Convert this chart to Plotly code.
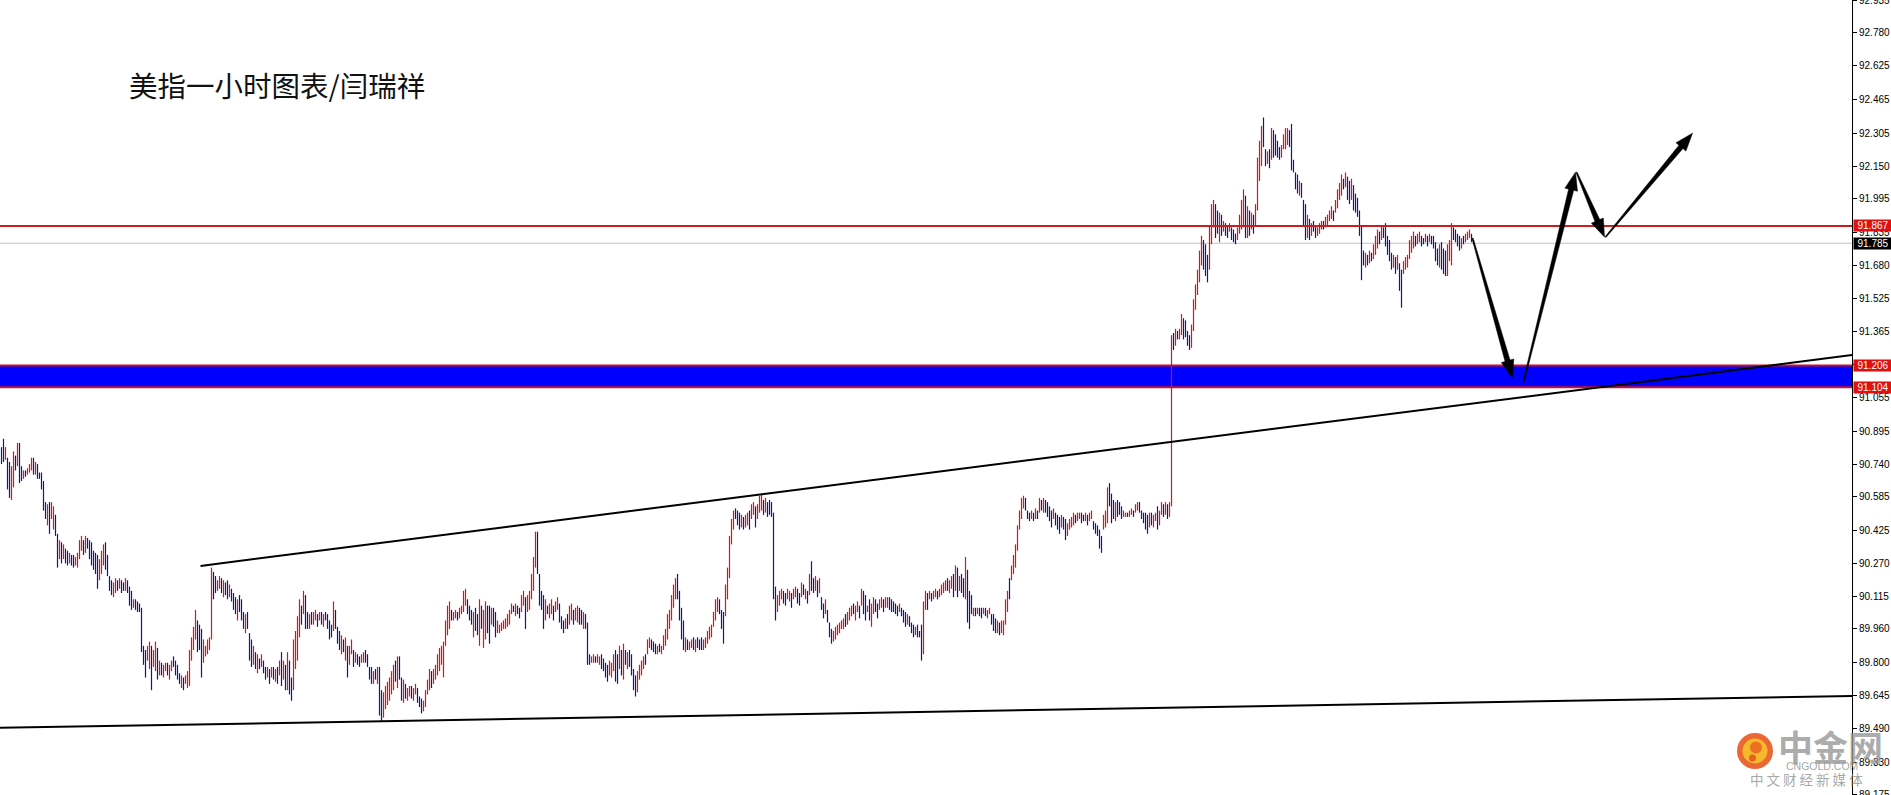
import plotly.graph_objects as go

# ---------------- data (US dollar index, 1-hour bars) ----------------
bar_high = [
    90.82, 90.86, 90.82, 90.77, 90.75, 90.73, 90.80, 90.78, 90.84, 90.84,
    90.73, 90.71, 90.71, 90.72, 90.74, 90.77, 90.77, 90.75, 90.74, 90.70,
    90.70, 90.66, 90.56, 90.55, 90.56, 90.56, 90.54, 90.50, 90.41, 90.38,
    90.37, 90.36, 90.34, 90.33, 90.32, 90.31, 90.31, 90.30, 90.32, 90.38,
    90.40, 90.38, 90.40, 90.39, 90.38, 90.37, 90.33, 90.32, 90.31, 90.29,
    90.33, 90.36, 90.37, 90.31, 90.21, 90.19, 90.18, 90.20, 90.19, 90.20,
    90.19, 90.18, 90.20, 90.19, 90.16, 90.14, 90.10, 90.10, 90.09, 90.08,
    90.06, 89.88, 89.86, 89.88, 89.90, 89.88, 89.86, 89.90, 89.87, 89.81,
    89.80, 89.79, 89.80, 89.80, 89.79, 89.81, 89.83, 89.81, 89.79, 89.75,
    89.74, 89.73, 89.74, 89.76, 89.86, 89.92, 89.97, 90.05, 90.00, 89.98,
    89.96, 89.91, 89.88, 89.91, 89.92, 90.25, 90.23, 90.21, 90.19, 90.21,
    90.20, 90.19, 90.18, 90.19, 90.17, 90.15, 90.13, 90.11, 90.10, 90.12,
    90.10, 90.04, 90.03, 90.04, 89.94, 89.91, 89.88, 89.85, 89.84, 89.82,
    89.84, 89.81, 89.78, 89.78, 89.77, 89.78, 89.78, 89.77, 89.78, 89.81,
    89.85, 89.81, 89.79, 89.85, 89.81, 89.73, 89.91, 89.95, 90.02, 90.10,
    90.07, 90.14, 90.12, 90.04, 90.03, 90.04, 90.04, 90.05, 90.03, 90.04,
    90.04, 90.03, 90.04, 90.03, 90.00, 89.98, 90.09, 90.05, 89.97, 89.95,
    89.93, 89.91, 89.92, 89.88, 89.88, 89.91, 89.86, 89.85, 89.84, 89.83,
    89.84, 89.85, 89.86, 89.84, 89.78, 89.78, 89.76, 89.77, 89.78, 89.78,
    89.67, 89.66, 89.69, 89.71, 89.73, 89.76, 89.79, 89.81, 89.83, 89.83,
    89.73, 89.72, 89.70, 89.68, 89.69, 89.69, 89.68, 89.70, 89.68, 89.64,
    89.63, 89.62, 89.67, 89.72, 89.77, 89.76, 89.77, 89.79, 89.84, 89.87,
    89.88, 89.90, 90.00, 90.07, 90.09, 90.05, 90.04, 90.05, 90.04, 90.06,
    90.07, 90.14, 90.15, 90.10, 90.07, 90.05, 90.04, 90.06, 90.03, 90.10,
    90.07, 90.05, 90.09, 90.07, 90.07, 90.06, 90.06, 90.04, 90.00, 89.98,
    89.99, 90.00, 90.01, 90.03, 90.05, 90.08, 90.07, 90.08, 90.07, 90.06,
    90.12, 90.14, 90.11, 90.12, 90.14, 90.22, 90.30, 90.42, 90.42, 90.22,
    90.14, 90.12, 90.10, 90.07, 90.08, 90.10, 90.07, 90.09, 90.11, 90.08,
    90.02, 90.00, 90.01, 90.03, 90.07, 90.08, 90.05, 90.06, 90.07, 90.06,
    90.05, 90.04, 90.03, 89.99, 89.84, 89.83, 89.84, 89.83, 89.84, 89.83,
    89.84, 89.82, 89.80, 89.79, 89.81, 89.80, 89.84, 89.86, 89.84, 89.88,
    89.86, 89.89, 89.86, 89.85, 89.86, 89.84, 89.77, 89.74, 89.76, 89.79,
    89.81, 89.83, 89.84, 89.91, 89.92, 89.91, 89.90, 89.89, 89.88, 89.89,
    89.88, 89.93, 89.96, 90.03, 90.05, 90.12, 90.17, 90.20, 90.22, 90.14,
    90.06, 90.00, 89.92, 89.91, 89.90, 89.91, 89.92, 89.91, 89.92, 89.91,
    89.92, 89.91, 89.92, 89.95, 89.97, 89.98, 90.04, 90.10, 90.11, 90.10,
    90.05, 90.04, 90.17, 90.25, 90.40, 90.48, 90.52, 90.53, 90.52, 90.51,
    90.50, 90.49, 90.50, 90.51, 90.52, 90.55, 90.56, 90.54, 90.55, 90.59,
    90.60, 90.57, 90.58, 90.56, 90.57, 90.56, 90.51, 90.16, 90.12, 90.14,
    90.15, 90.14, 90.13, 90.15, 90.14, 90.13, 90.15, 90.16, 90.15, 90.13,
    90.18, 90.17, 90.15, 90.14, 90.22, 90.28, 90.20, 90.21, 90.19, 90.20,
    90.11, 90.08, 90.10, 90.05, 89.99, 89.96, 89.95, 89.97, 89.98, 89.99,
    90.00, 90.01, 90.03, 90.04, 90.06, 90.07, 90.08, 90.07, 90.09, 90.07,
    90.15, 90.14, 90.12, 90.07, 90.10, 90.08, 90.11, 90.10, 90.08, 90.10,
    90.11, 90.10, 90.11, 90.11, 90.11, 90.10, 90.09, 90.08, 90.07, 90.08,
    90.06, 90.05, 90.04, 90.03, 90.02, 89.99, 89.98, 89.97, 89.98, 89.95,
    89.98, 90.09, 90.14, 90.13, 90.14, 90.13, 90.14, 90.15, 90.14, 90.15,
    90.17, 90.18, 90.19, 90.20, 90.19, 90.21, 90.22, 90.26, 90.25, 90.21,
    90.22, 90.20, 90.30, 90.24, 90.14, 90.12, 90.06, 90.06, 90.06, 90.06,
    90.06, 90.06, 90.06, 90.05, 90.06, 90.03, 90.03, 90.01, 90.00, 89.99,
    90.00, 90.00, 90.10, 90.14, 90.20, 90.26, 90.31, 90.36, 90.45, 90.52,
    90.58, 90.59, 90.58, 90.52, 90.51, 90.52, 90.51, 90.53, 90.52, 90.58,
    90.57, 90.58, 90.57, 90.56, 90.54, 90.52, 90.53, 90.51, 90.50, 90.49,
    90.50, 90.49, 90.48, 90.46, 90.48, 90.49, 90.51, 90.50, 90.51, 90.51,
    90.51, 90.50, 90.51, 90.50, 90.51, 90.52, 90.47, 90.46, 90.45, 90.43,
    90.40, 90.50, 90.52, 90.63, 90.65, 90.60, 90.57, 90.56, 90.57, 90.56,
    90.54, 90.52, 90.51, 90.51, 90.52, 90.53, 90.52, 90.55, 90.56, 90.56,
    90.52, 90.51, 90.51, 90.50, 90.51, 90.51, 90.50, 90.51, 90.54, 90.52,
    90.56, 90.55, 90.56, 90.55, 90.56, 91.35, 91.36, 91.38, 91.37, 91.38,
    91.45, 91.43, 91.42, 91.37, 91.35, 91.40, 91.52, 91.59, 91.66, 91.75,
    91.82, 91.80, 91.78, 91.73, 91.87, 91.97, 91.99, 91.97, 91.94, 91.93,
    91.92, 91.89, 91.88, 91.87, 91.88, 91.86, 91.85, 91.83, 91.86, 91.92,
    91.99, 92.04, 92.01, 91.96, 91.94, 91.93, 91.92, 91.97, 92.19, 92.27,
    92.34, 92.38, 92.23, 92.22, 92.23, 92.33, 92.32, 92.30, 92.27, 92.24,
    92.25, 92.30, 92.33, 92.33, 92.32, 92.35, 92.18, 92.12, 92.11, 92.08,
    92.07, 91.99, 91.97, 91.92, 91.90, 91.88, 91.89, 91.87, 91.86, 91.88,
    91.89, 91.89, 91.91, 91.92, 91.94, 91.96, 91.94, 91.99, 92.04, 92.07,
    92.11, 92.09, 92.12, 92.10, 92.08, 92.09, 92.06, 92.02, 92.00, 91.94,
    91.87, 91.75, 91.74, 91.73, 91.75, 91.74, 91.78, 91.82, 91.85, 91.84,
    91.87, 91.86, 91.88, 91.82, 91.80, 91.74, 91.73, 91.72, 91.73, 91.69,
    91.66, 91.70, 91.72, 91.73, 91.80, 91.82, 91.84, 91.82, 91.83, 91.84,
    91.82, 91.81, 91.83, 91.82, 91.83, 91.82, 91.82, 91.79, 91.76, 91.78,
    91.79, 91.76, 91.75, 91.78, 91.80, 91.88, 91.86, 91.85, 91.83, 91.82,
    91.81, 91.82, 91.83, 91.84, 91.85, 91.83, 91.80,
]

bar_low = [
    90.74, 90.75, 90.76, 90.62, 90.58, 90.57, 90.63, 90.71, 90.73, 90.65,
    90.66, 90.67, 90.68, 90.69, 90.70, 90.71, 90.69, 90.69, 90.67, 90.67,
    90.62, 90.52, 90.48, 90.45, 90.41, 90.48, 90.43, 90.40, 90.25, 90.29,
    90.27, 90.29, 90.27, 90.26, 90.27, 90.26, 90.25, 90.26, 90.25, 90.29,
    90.33, 90.31, 90.32, 90.34, 90.29, 90.26, 90.24, 90.22, 90.15, 90.19,
    90.22, 90.26, 90.24, 90.21, 90.14, 90.12, 90.11, 90.13, 90.14, 90.15,
    90.13, 90.14, 90.14, 90.13, 90.07, 90.05, 90.06, 90.05, 90.04, 90.04,
    89.85, 89.79, 89.73, 89.81, 89.77, 89.67, 89.78, 89.76, 89.72, 89.74,
    89.74, 89.73, 89.76, 89.74, 89.72, 89.76, 89.78, 89.74, 89.72, 89.70,
    89.68, 89.67, 89.70, 89.68, 89.69, 89.81, 89.86, 89.91, 89.85, 89.86,
    89.73, 89.80, 89.83, 89.84, 89.86, 89.91, 90.10, 90.13, 90.14, 90.15,
    90.13, 90.11, 90.12, 90.10, 90.11, 90.09, 90.05, 90.03, 90.00, 90.04,
    90.00, 89.96, 89.94, 89.96, 89.81, 89.78, 89.79, 89.77, 89.75, 89.77,
    89.78, 89.75, 89.72, 89.73, 89.70, 89.73, 89.72, 89.71, 89.70, 89.74,
    89.69, 89.72, 89.67, 89.67, 89.65, 89.62, 89.67, 89.77, 89.81, 89.92,
    89.98, 90.03, 89.96, 89.96, 89.96, 89.98, 89.98, 90.00, 89.97, 90.00,
    89.98, 89.97, 90.00, 89.96, 89.91, 89.92, 89.95, 89.96, 89.89, 89.86,
    89.84, 89.85, 89.81, 89.73, 89.79, 89.84, 89.78, 89.80, 89.79, 89.78,
    89.80, 89.80, 89.80, 89.78, 89.72, 89.70, 89.70, 89.72, 89.70, 89.55,
    89.52, 89.54, 89.58, 89.60, 89.62, 89.65, 89.67, 89.71, 89.68, 89.72,
    89.62, 89.61, 89.63, 89.62, 89.64, 89.63, 89.62, 89.65, 89.61, 89.59,
    89.56, 89.57, 89.59, 89.65, 89.67, 89.68, 89.70, 89.72, 89.74, 89.76,
    89.79, 89.73, 89.88, 89.93, 89.96, 90.00, 90.00, 90.01, 90.00, 90.01,
    90.03, 90.04, 90.07, 90.03, 90.00, 89.98, 89.92, 89.95, 89.93, 89.88,
    89.96, 89.87, 89.91, 89.94, 89.89, 89.98, 89.97, 89.92, 89.94, 89.94,
    89.95, 89.96, 89.96, 89.97, 89.98, 90.03, 90.04, 90.02, 90.03, 90.01,
    90.04, 90.07, 89.96, 90.04, 90.05, 90.10, 90.14, 90.25, 90.22, 90.07,
    90.05, 89.96, 90.00, 90.03, 90.01, 90.03, 90.00, 90.04, 90.05, 89.99,
    89.96, 89.94, 89.96, 89.96, 89.98, 90.00, 89.98, 90.00, 89.99, 89.98,
    89.98, 89.96, 89.96, 89.79, 89.79, 89.80, 89.80, 89.80, 89.80, 89.79,
    89.77, 89.76, 89.73, 89.71, 89.74, 89.73, 89.76, 89.71, 89.70, 89.77,
    89.74, 89.72, 89.79, 89.77, 89.78, 89.74, 89.67, 89.64, 89.66, 89.72,
    89.74, 89.77, 89.79, 89.84, 89.87, 89.86, 89.85, 89.84, 89.84, 89.85,
    89.84, 89.86, 89.88, 89.91, 89.96, 90.00, 90.06, 90.10, 90.10, 90.00,
    89.91, 89.86, 89.85, 89.86, 89.86, 89.87, 89.86, 89.85, 89.87, 89.86,
    89.86, 89.86, 89.87, 89.89, 89.91, 89.92, 89.97, 90.00, 90.04, 90.03,
    89.96, 89.89, 90.02, 90.10, 90.20, 90.36, 90.43, 90.48, 90.45, 90.43,
    90.44, 90.43, 90.44, 90.45, 90.43, 90.48, 90.50, 90.44, 90.48, 90.51,
    90.52, 90.50, 90.51, 90.49, 90.50, 90.49, 90.10, 90.00, 90.04, 90.07,
    90.10, 90.08, 90.07, 90.10, 90.09, 90.06, 90.10, 90.11, 90.08, 90.07,
    90.11, 90.12, 90.10, 90.08, 90.12, 90.14, 90.13, 90.14, 90.11, 90.13,
    90.05, 90.01, 90.03, 89.99, 89.92, 89.89, 89.90, 89.91, 89.93, 89.94,
    89.96, 89.96, 89.97, 89.98, 90.00, 90.02, 90.03, 90.00, 90.04, 90.01,
    90.07, 90.03, 90.00, 90.04, 90.00, 89.97, 90.03, 90.04, 90.01, 90.05,
    90.06, 90.04, 90.06, 90.06, 90.05, 90.04, 90.04, 90.03, 90.02, 90.04,
    90.02, 89.99, 89.97, 89.98, 89.97, 89.94, 89.92, 89.93, 89.92, 89.92,
    89.81, 89.84, 90.05, 90.05, 90.10, 90.09, 90.10, 90.11, 90.10, 90.11,
    90.12, 90.13, 90.14, 90.14, 90.13, 90.15, 90.11, 90.14, 90.11, 90.14,
    90.13, 90.11, 90.10, 89.99, 89.96, 90.03, 90.02, 90.02, 90.03, 90.02,
    90.01, 90.03, 90.02, 90.01, 90.03, 89.98, 89.95, 89.94, 89.94, 89.93,
    89.94, 89.93, 89.98, 90.04, 90.10, 90.19, 90.22, 90.25, 90.33, 90.43,
    90.48, 90.53, 90.52, 90.48, 90.47, 90.48, 90.47, 90.48, 90.48, 90.51,
    90.52, 90.51, 90.51, 90.49, 90.47, 90.44, 90.48, 90.45, 90.43, 90.41,
    90.44, 90.43, 90.38, 90.40, 90.43, 90.44, 90.45, 90.46, 90.47, 90.48,
    90.46, 90.47, 90.47, 90.45, 90.47, 90.48, 90.43, 90.41, 90.40, 90.34,
    90.32, 90.43, 90.44, 90.46, 90.54, 90.46, 90.48, 90.47, 90.49, 90.50,
    90.48, 90.49, 90.49, 90.49, 90.49, 90.50, 90.49, 90.51, 90.52, 90.51,
    90.48, 90.46, 90.43, 90.41, 90.44, 90.45, 90.44, 90.47, 90.43, 90.45,
    90.50, 90.49, 90.50, 90.48, 90.49, 90.54, 91.28, 91.30, 91.33, 91.33,
    91.35, 91.33, 91.34, 91.30, 91.28, 91.29, 91.37, 91.47, 91.54, 91.60,
    91.68, 91.66, 91.63, 91.60, 91.66, 91.78, 91.86, 91.81, 91.83, 91.79,
    91.82, 91.84, 91.82, 91.81, 91.84, 91.80, 91.79, 91.78, 91.80, 91.83,
    91.85, 91.86, 91.81, 91.81, 91.82, 91.85, 91.83, 91.87, 91.94, 92.08,
    92.15, 92.24, 92.15, 92.16, 92.14, 92.18, 92.19, 92.20, 92.19, 92.18,
    92.19, 92.23, 92.23, 92.25, 92.24, 92.13, 92.12, 92.04, 92.02, 92.01,
    92.00, 91.87, 91.80, 91.81, 91.80, 91.82, 91.84, 91.81, 91.82, 91.83,
    91.85, 91.85, 91.86, 91.87, 91.89, 91.90, 91.89, 91.93, 91.95, 91.99,
    92.01, 92.04, 92.05, 91.99, 91.97, 91.99, 91.94, 91.93, 91.91, 91.82,
    91.61, 91.68, 91.67, 91.68, 91.69, 91.70, 91.71, 91.73, 91.76, 91.78,
    91.80, 91.81, 91.77, 91.73, 91.70, 91.66, 91.67, 91.64, 91.66, 91.56,
    91.48, 91.64, 91.66, 91.67, 91.71, 91.74, 91.76, 91.77, 91.78, 91.79,
    91.77, 91.78, 91.79, 91.77, 91.79, 91.78, 91.76, 91.70, 91.68, 91.67,
    91.66, 91.64, 91.63, 91.63, 91.70, 91.68, 91.80, 91.79, 91.77, 91.75,
    91.76, 91.78, 91.79, 91.80, 91.81, 91.79, 91.78,
]

# R = bar closed up (red), B = bar closed down (blue)
bar_dir = (
    "BBRBBRRBRB" "BRBRRRBRBB" "BBBRBRRBBR" "BRBBRBBRRR" "RBRBBBBBBR"
    "RRBBBBRRBR" "BBRBBBRBBB" "BBBRRBRRBR" "BRRBRRBBBB" "RBRRRRRRBB"
    "BRRRRRBBRR" "BRBBRBBBRB" "BBRBBBRBRB" "RBBRBRBRBR" "BRBRBBRRRR"
    "BRBBRBRRBR" "BRBBBBRBBB" "RBRBRRBRBB" "RRBBBBRBRB" "BRRRRRRBRB"
    "BRBRRBRRBB" "BRRRRBRRRR" "RRRRRBRRBR" "RRRBBBRBBR" "BRRBBRBBRR"
    "RRRRRRBRBB" "RRBRRRRRBB" "BBRBRRBRRB" "BBRBRRBRRB" "BRBBBRRBRR"
    "BBBBRRRBBR" "BRBRBBBBRR" "RRBRRBBBRB" "RRRRRRRRBB" "BBRBRRBRBB"
    "BRRRRRRRRB" "BBRRRRRBBB" "RBRRBRRBRR" "RBRBBBBBRR" "RBBRRBRRBB"
    "RBRBRBBRBR" "BBRBBBRRRR" "RRBRRRBRRB" "RBBRBRRBBR" "RBRRBBBBBR"
    "BBBRBBBRBB" "BRRBRBRRBR" "RRRBRRBRBR" "BBRBBBRBRB" "BRBRRBBBRB"
    "RRRRBRRRRR" "RRBBBRBRBR" "BRBBBBRBBB" "RBBRRRRBRR" "BBRBRRBBBB"
    "BRRRBBBRBB" "BRRBRRBRRB" "BBBBRBRRBR" "RBRBRRBRBR" "RBBBBRRRRR"
    "RBBBRRRBBR" "BRBBRBBBRR" "RRBRBRBRRR" "RBBRBRBBBB" "RRRRBBBBBR"
    "BBBRBRBBRR" "RBRRRRBRRR" "RBRBBRBBBB" "BBRBRBRRRB" "RBBBBBRBRB"
    "BRRRRRRBRR" "BBRBRBBBBR" "BBBRRRBBBB" "RBRRRBB"
)

# horizontal levels drawn on the chart
resistance_level = 91.867
last_price = 91.785
zone_top = 91.206
zone_bottom = 91.104

# right price axis
axis_ticks = [92.935, 92.780, 92.625, 92.465, 92.305, 92.150, 91.995, 91.835,
              91.680, 91.525, 91.365, 91.210, 91.055, 90.895, 90.740, 90.585,
              90.425, 90.270, 90.115, 89.960, 89.800, 89.645, 89.490, 89.330,
              89.175]
axis_tick_text = ["92.935", "92.780", "92.625", "92.465", "92.305", "92.150",
                  "91.995", "91.835", "91.680", "91.525", "91.365", "91.210",
                  "91.055", "90.895", "90.740", "90.585", "90.425", "90.270",
                  "90.115", "89.960", "89.800", "89.645", "89.490", "89.330",
                  "89.175"]

# trend lines (bar index, price)
upper_trend_x = [99.5, 925.25]
upper_trend_y = [90.258, 91.256]
lower_trend_x = [-0.75, 925.25]
lower_trend_y = [89.492, 89.643]

# projected path arrows: (start bar, start price) -> (tip bar, tip price)
arrow_legs = [
    ((735.5, 91.809), (755.5, 91.147)),
    ((761.0, 91.128), (787.0, 92.121)),
    ((787.5, 92.121), (801.5, 91.814)),
    ((802.0, 91.814), (845.5, 92.306)),
]

title_text = "美指一小时图表/闫瑞祥"

# ---------------- figure ----------------
W, H = 1891, 795
PLOT_W = 1852
XR = [-0.75, 925.25]
YR = [89.174, 92.936]

RED = "#e0101c"
BLUE = "#14148c"


def to_px(x, y):
    return ((x - XR[0]) / (XR[1] - XR[0]) * PLOT_W,
            (YR[1] - y) / (YR[1] - YR[0]) * H)


def to_data(px, py):
    return (XR[0] + px / PLOT_W * (XR[1] - XR[0]),
            YR[1] - py / H * (YR[1] - YR[0]))


def arrow_path(start, tip, w0=0.6, w1=2.6, hw=6.5, hl=18.0):
    sx, sy = to_px(*start)
    tx, ty = to_px(*tip)
    dx, dy = tx - sx, ty - sy
    L = (dx * dx + dy * dy) ** 0.5
    ux, uy = dx / L, dy / L
    nx, ny = -uy, ux
    bx, by = tx - ux * hl, ty - uy * hl
    pts = [(sx + nx * w0, sy + ny * w0), (bx + nx * w1, by + ny * w1),
           (bx + nx * hw, by + ny * hw), (tx, ty),
           (bx - nx * hw, by - ny * hw), (bx - nx * w1, by - ny * w1),
           (sx - nx * w0, sy - ny * w0)]
    d = [to_data(px, py) for px, py in pts]
    return "M " + " L ".join(f"{x:.4f},{y:.5f}" for x, y in d) + " Z"


up_x, up_y, dn_x, dn_y = [], [], [], []
for i, (h, l, d) in enumerate(zip(bar_high, bar_low, bar_dir)):
    if d == "R":
        up_x += [i, i, None]
        up_y += [l, h, None]
    else:
        dn_x += [i, i, None]
        dn_y += [h, l, None]

fig = go.Figure()
fig.add_trace(go.Scatter(x=up_x, y=up_y, mode="lines",
                         line=dict(color=RED, width=1.2), hoverinfo="skip",
                         showlegend=False))
fig.add_trace(go.Scatter(x=dn_x, y=dn_y, mode="lines",
                         line=dict(color=BLUE, width=1.2), hoverinfo="skip",
                         showlegend=False))

shapes = []
# blue support zone
shapes.append(dict(type="rect", xref="paper", yref="y", x0=0, x1=1,
                   y0=zone_bottom, y1=zone_top, fillcolor="#0000ff",
                   line=dict(width=0), layer="below"))
for lvl in (zone_top, zone_bottom):
    shapes.append(dict(type="line", xref="paper", yref="y", x0=0, x1=1,
                       y0=lvl, y1=lvl, line=dict(color="#c8102e", width=2)))
# current price line
shapes.append(dict(type="line", xref="paper", yref="y", x0=0, x1=1,
                   y0=last_price, y1=last_price,
                   line=dict(color="#c0c0c0", width=1), layer="below"))
# resistance line
shapes.append(dict(type="line", xref="paper", yref="y", x0=0, x1=1,
                   y0=resistance_level, y1=resistance_level,
                   line=dict(color="#c81e1e", width=2)))
# trend lines
shapes.append(dict(type="line", xref="x", yref="y",
                   x0=upper_trend_x[0], x1=upper_trend_x[1],
                   y0=upper_trend_y[0], y1=upper_trend_y[1],
                   line=dict(color="#000000", width=2)))
shapes.append(dict(type="line", xref="x", yref="y",
                   x0=lower_trend_x[0], x1=lower_trend_x[1],
                   y0=lower_trend_y[0], y1=lower_trend_y[1],
                   line=dict(color="#000000", width=2)))
# arrows
for s, t in arrow_legs:
    shapes.append(dict(type="path", xref="x", yref="y", path=arrow_path(s, t),
                       fillcolor="#000000", line=dict(color="#000000", width=0.5)))


# watermark logo (bottom right)
def px_circle(cx, cy, r, color, opacity=1.0):
    return dict(type="circle", xref="paper", yref="paper",
                xsizemode="pixel", ysizemode="pixel",
                xanchor=cx / PLOT_W, yanchor=1 - cy / H,
                x0=-r, x1=r, y0=-r, y1=r,
                fillcolor=color, line=dict(width=0), opacity=opacity)


shapes.append(px_circle(1755, 751, 18, "#e9561e", 0.9))
shapes.append(px_circle(1755, 751, 12.5, "#f7bd2c", 0.95))
shapes.append(px_circle(1756, 747.5, 6, "#ec6a22", 0.95))
shapes.append(px_circle(1752.5, 758, 3.5, "#e9561e", 0.9))

annotations = [
    dict(text=title_text, xref="paper", yref="paper", x=127 / PLOT_W,
         y=1 - 84.5 / H, xanchor="left", yanchor="middle", showarrow=False,
         font=dict(family="Noto Sans CJK SC", size=28.5, color="#111111")),
    dict(text="<b>中金网</b>", xref="paper", yref="paper", x=1830 / PLOT_W,
         y=1 - 745 / H, xanchor="center", yanchor="middle", showarrow=False,
         font=dict(family="Noto Sans CJK SC", size=35, color="rgba(150,150,150,0.8)")),
    dict(text="CNGOLD.COM", xref="paper", yref="paper", x=1822 / PLOT_W,
         y=1 - 766 / H, xanchor="center", yanchor="middle", showarrow=False,
         font=dict(family="Liberation Sans", size=10.5, color="rgba(150,150,150,0.85)")),
    dict(text="中 文 财 经 新 媒 体", xref="paper", yref="paper", x=1806 / PLOT_W,
         y=1 - 779 / H, xanchor="center", yanchor="middle", showarrow=False,
         font=dict(family="Noto Sans CJK SC", size=13.5, color="rgba(150,150,150,0.85)")),
]

# price labels on the axis
for val, txt, bg in [(resistance_level, "91.867", "#e01010"),
                     (last_price, "91.785", "#000000"),
                     (zone_top, "91.206", "#e01010"),
                     (zone_bottom, "91.104", "#e01010")]:
    annotations.append(dict(text=txt, xref="paper", yref="y", x=1, y=val,
                            xanchor="left", yanchor="middle", xshift=1,
                            showarrow=False, bgcolor=bg, borderpad=0,
                            width=38, height=11, align="center",
                            font=dict(family="Liberation Sans", size=10, color="#ffffff")))

fig.update_layout(
    width=W, height=H,
    margin=dict(l=0, r=W - PLOT_W, t=0, b=0, autoexpand=False),
    paper_bgcolor="#ffffff", plot_bgcolor="#ffffff",
    showlegend=False,
    shapes=shapes, annotations=annotations,
    xaxis=dict(range=XR, visible=False, fixedrange=True),
    yaxis=dict(range=YR, side="right", showgrid=False, zeroline=False,
               showline=True, linecolor="#000000", linewidth=1,
               ticks="outside", ticklen=4, tickcolor="#000000",
               tickvals=axis_ticks, ticktext=axis_tick_text,
               ticklabeloverflow="allow",
               tickfont=dict(family="Liberation Sans", size=10, color="#000000"),
               automargin=False, fixedrange=True),
)

fig.write_html(
    "out.html",
    config={"displayModeBar": False},
    post_script="document.body.style.margin='0px';document.body.style.overflow='hidden';",
)
